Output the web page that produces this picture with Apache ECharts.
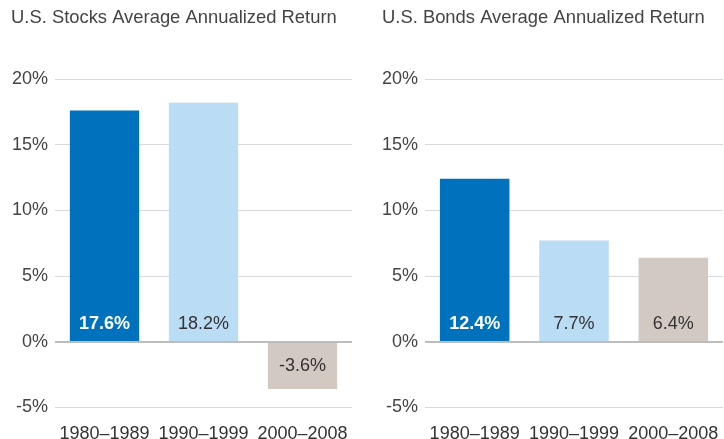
<!DOCTYPE html>
<html>
<head>
<meta charset="utf-8">
<style>
  html, body { margin: 0; padding: 0; background: #fff; }
  #chart { width: 724px; height: 439px; }
</style>
<script src="https://cdn.jsdelivr.net/npm/echarts@6/dist/echarts.min.js"></script>
</head>
<body>
<div id="chart"></div>
<script>
// periods shared by both panels
var periods = ['1980–1989', '1990–1999', '2000–2008'];
var stockReturns = [17.6, 18.2, -3.6];
var bondReturns = [12.4, 7.7, 6.4];
var barColors = ['#0071bc', '#badcf4', '#d3c9c3'];
var labelColors = ['#ffffff', '#333333', '#333333'];

var font = '"Liberation Sans", Arial, sans-serif';

function makeData(values) {
  return values.map(function (v, i) {
    return {
      value: v,
      itemStyle: { color: barColors[i] },
      label: {
        position: v < 0 ? 'insideTop' : 'insideBottom',
        distance: v < 0 ? 15 : 9,
        color: labelColors[i],
        fontWeight: i === 0 ? 'bold' : 'normal'
      }
    };
  });
}

function yAxisFor(idx) {
  return {
    gridIndex: idx,
    type: 'value',
    min: -5,
    max: 20,
    interval: 5,
    axisLine: { show: false },
    axisTick: { show: false },
    axisLabel: {
      formatter: '{value}%',
      color: '#444',
      fontSize: 18,
      fontFamily: font,
      margin: 7,
      padding: [0, 0, 10, 0]
    },
    splitLine: { lineStyle: { color: '#d9d9d9', width: 1 } }
  };
}

function xAxisFor(idx) {
  return {
    gridIndex: idx,
    type: 'category',
    data: periods,
    axisLine: { show: false, onZero: false },
    axisTick: { show: false },
    axisLabel: {
      interval: 0,
      hideOverlap: false,
      color: '#333',
      fontSize: 18,
      fontFamily: font,
      margin: 18
    }
  };
}

function seriesFor(idx, values) {
  return {
    type: 'bar',
    xAxisIndex: idx,
    yAxisIndex: idx,
    barWidth: '70%',
    data: makeData(values),
    label: {
      show: true,
      fontSize: 18,
      fontFamily: font,
      formatter: function (p) { return p.value.toFixed(1) + '%'; }
    },
    markLine: {
      silent: true,
      symbol: 'none',
      label: { show: false },
      lineStyle: { color: '#bdbdbd', width: 2, type: 'solid' },
      data: [{ yAxis: 0 }]
    }
  };
}

var chart = echarts.init(document.getElementById('chart'));
chart.setOption({
  animation: false,
  title: [
    {
      text: 'U.S. Stocks Average Annualized Return',
      left: 11, top: 9, padding: 0,
      textStyle: { color: '#444', fontSize: 18.4, fontWeight: 'normal', fontFamily: font }
    },
    {
      text: 'U.S. Bonds Average Annualized Return',
      left: 382, top: 9, padding: 0,
      textStyle: { color: '#444', fontSize: 18.4, fontWeight: 'normal', fontFamily: font }
    }
  ],
  grid: [
    { left: 55, right: 372, top: 79, bottom: 31.5, outerBoundsMode: 'none' },
    { left: 425, right: 1, top: 79, bottom: 31.5, outerBoundsMode: 'none' }
  ],
  xAxis: [xAxisFor(0), xAxisFor(1)],
  yAxis: [yAxisFor(0), yAxisFor(1)],
  series: [seriesFor(0, stockReturns), seriesFor(1, bondReturns)]
});
</script>
</body>
</html>
